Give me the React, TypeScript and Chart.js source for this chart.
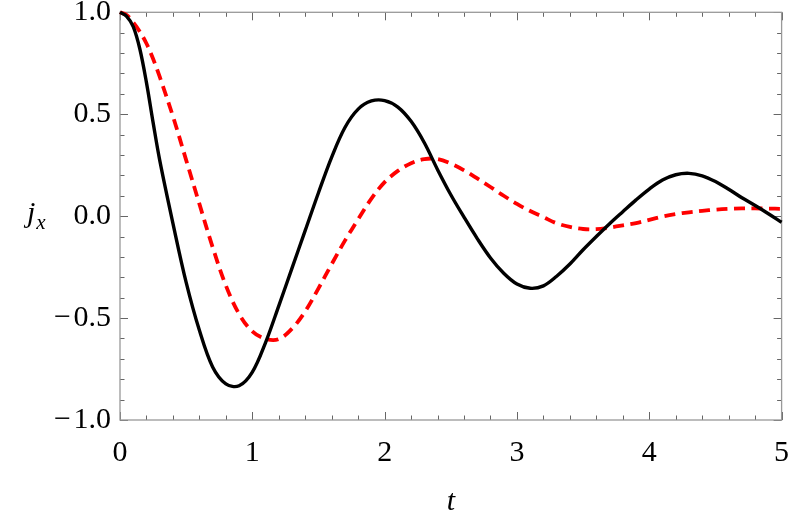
import React, { useEffect, useRef } from 'react';
import { Chart, registerables } from 'chart.js';

Chart.register(...registerables);

const tValues = [
  0, 0.05, 0.1, 0.15, 0.2, 0.25, 0.3, 0.4, 0.5, 0.6, 0.7, 0.8, 0.9,
  1.0, 1.1, 1.2, 1.3, 1.4, 1.5, 1.6, 1.7, 1.8, 1.9,
  2.0, 2.1, 2.2, 2.3, 2.4, 2.5, 2.6, 2.7, 2.8, 2.9,
  3.0, 3.1, 3.2, 3.3, 3.4, 3.5, 3.6, 3.7, 3.8, 3.9,
  4.0, 4.1, 4.2, 4.3, 4.4, 4.5, 4.6, 4.7, 4.8, 4.9,
  5.0,
];

const jxSolid = [
  1.0, 0.98, 0.93, 0.82, 0.655, 0.46, 0.275, -0.035, -0.325, -0.56, -0.74, -0.823, -0.832,
  -0.765, -0.62, -0.44, -0.255, -0.07, 0.115, 0.29, 0.435, 0.525, 0.565,
  0.567, 0.535, 0.465, 0.36, 0.228, 0.105, -0.005, -0.11, -0.205, -0.28,
  -0.333, -0.354, -0.342, -0.295, -0.235, -0.165, -0.1, -0.037, 0.022, 0.08,
  0.133, 0.177, 0.203, 0.21, 0.198, 0.17, 0.132, 0.09, 0.052, 0.012,
  -0.03,
];

const jxDashed = [
  1.0, 0.987, 0.95, 0.905, 0.847, 0.772, 0.684, 0.49, 0.275, 0.06, -0.152, -0.34, -0.48,
  -0.565, -0.602, -0.603, -0.552, -0.467, -0.354, -0.235, -0.12, -0.015, 0.086,
  0.167, 0.222, 0.26, 0.28, 0.28, 0.258, 0.225, 0.185, 0.143, 0.1,
  0.06, 0.025, -0.005, -0.035, -0.053, -0.063, -0.064, -0.056, -0.045, -0.034,
  -0.018, -0.002, 0.01, 0.019, 0.026, 0.032, 0.036, 0.038, 0.038, 0.037,
  0.036,
];

const xMajorTicks = [0, 1, 2, 3, 4, 5];
const yMajorTicks = [-1, -0.5, 0, 0.5, 1];
const xMinorTicks: number[] = [];
for (let i = 1; i < 25; i++) if (i % 5 !== 0) xMinorTicks.push(i * 0.2);
const yMinorTicks: number[] = [];
for (let i = -9; i <= 9; i++) if (i % 5 !== 0) yMinorTicks.push(i * 0.1);

const xTitle = 't';
const yTitleMain = 'j';
const yTitleSub = 'x';

const FONT = '"Liberation Serif", "Times New Roman", serif';

const framePlugin = {
  id: 'mmaFrame',
  beforeDatasetsDraw(chart: any) {
    const { ctx, chartArea } = chart;
    const { left, right, top, bottom } = chartArea;
    const xs = chart.scales.x;
    const ys = chart.scales.y;
    ctx.save();
    ctx.strokeStyle = '#666';
    ctx.lineWidth = 1;
    ctx.beginPath();
    const xt = (vals: number[], len: number) => {
      vals.forEach((v) => {
        const p = Math.round(xs.getPixelForValue(v)) + 0.5;
        ctx.moveTo(p, bottom);
        ctx.lineTo(p, bottom - len);
        ctx.moveTo(p, top);
        ctx.lineTo(p, top + len);
      });
    };
    const yt = (vals: number[], len: number) => {
      vals.forEach((v) => {
        const p = Math.round(ys.getPixelForValue(v)) + 0.5;
        ctx.moveTo(left, p);
        ctx.lineTo(left + len, p);
        ctx.moveTo(right, p);
        ctx.lineTo(right - len, p);
      });
    };
    xt(xMajorTicks, 8);
    xt(xMinorTicks, 4.5);
    yt(yMajorTicks, 8);
    yt(yMinorTicks, 4.5);
    ctx.stroke();
    ctx.strokeStyle = '#999';
    ctx.lineWidth = 1.3;
    ctx.strokeRect(left, top, right - left, bottom - top);
    ctx.restore();
  },
  afterDraw(chart: any) {
    const { ctx } = chart;
    ctx.save();
    ctx.fillStyle = '#000';
    ctx.textBaseline = 'alphabetic';
    ctx.textAlign = 'left';
    ctx.font = `italic 30px ${FONT}`;
    const x0 = 27;
    const base = 222;
    ctx.fillText(yTitleMain, x0, base);
    const w = ctx.measureText(yTitleMain).width;
    ctx.font = `italic 21px ${FONT}`;
    ctx.fillText(yTitleSub, x0 + w + 1, base + 7);
    ctx.restore();
  },
};

function fmtY(v: number): string {
  const s = Math.abs(v).toFixed(1);
  return v < -1e-9 ? '\u2212\u200A' + s : s;
}

const zeroPad = (s: any) => {
  s.paddingLeft = 0;
  s.paddingRight = 0;
  s.paddingTop = 0;
  s.paddingBottom = 0;
};

export default function App() {
  const ref = useRef<HTMLCanvasElement | null>(null);
  useEffect(() => {
    if (!ref.current) return;
    const chart = new Chart(ref.current, {
      type: 'line',
      data: {
        datasets: [
          {
            label: 'solid',
            data: tValues.map((t, i) => ({ x: t, y: jxSolid[i] })),
            borderColor: '#000000',
            borderWidth: 3.4,
            pointRadius: 0,
            tension: 0.35,
            fill: false,
            clip: 5,
          },
          {
            label: 'dashed',
            data: tValues.map((t, i) => ({ x: t, y: jxDashed[i] })),
            borderColor: '#ff0000',
            borderWidth: 3.8,
            borderDash: [11, 6.5],
            pointRadius: 0,
            tension: 0.35,
            fill: false,
            clip: 5,
          },
        ],
      },
      options: {
        responsive: false,
        animation: false,
        devicePixelRatio: 1,
        layout: { padding: { left: 0, right: 7.4, top: 12.3, bottom: 0 } },
        plugins: {
          legend: { display: false },
          tooltip: { enabled: false },
        },
        scales: {
          x: {
            type: 'linear',
            min: 0,
            max: 5,
            afterFit: (s: any) => {
              s.height = 103;
              zeroPad(s);
            },
            grid: { display: false, drawTicks: false, tickLength: 0 },
            border: { display: false },
            ticks: {
              stepSize: 1,
              autoSkip: false,
              maxRotation: 0,
              padding: 15,
              color: '#000',
              font: { family: FONT, size: 30 },
              callback: (v: any) => String(v),
            },
            title: {
              display: true,
              text: xTitle,
              color: '#000',
              font: { family: FONT, size: 30, style: 'italic' },
              padding: { top: 0, bottom: 3 },
            },
          },
          y: {
            type: 'linear',
            min: -1,
            max: 1,
            afterFit: (s: any) => {
              s.width = 120;
              zeroPad(s);
            },
            grid: { display: false, drawTicks: false, tickLength: 0 },
            border: { display: false },
            ticks: {
              stepSize: 0.5,
              autoSkip: false,
              padding: 9,
              color: '#000',
              font: { family: FONT, size: 30, lineHeight: 0.8 },
              callback: (v: any) => fmtY(Number(v)),
            },
          },
        },
      },
      plugins: [framePlugin],
    });
    return () => chart.destroy();
  }, []);
  return (
    <div style={{ position: 'absolute', left: 0, top: 0, width: 789, height: 523 }}>
      <canvas ref={ref} width={789} height={523} style={{ width: 789, height: 523 }} />
    </div>
  );
}
